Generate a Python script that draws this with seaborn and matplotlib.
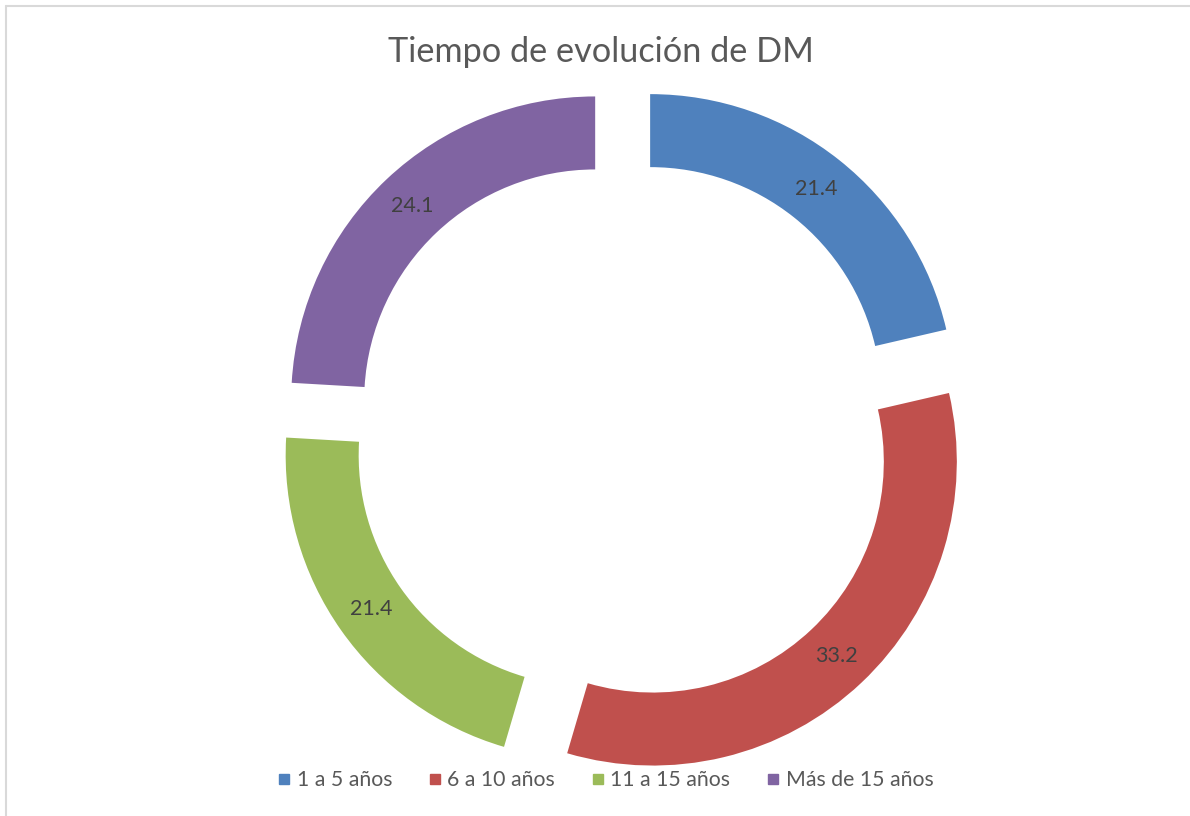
import matplotlib
matplotlib.use("Agg")
import matplotlib.pyplot as plt
import seaborn as sns
from matplotlib.lines import Line2D

categories = ["1 a 5 años", "6 a 10 años", "11 a 15 años", "Más de 15 años"]
values = [21.4, 33.2, 21.4, 24.1]
labels_txt = ["21.4", "33.2", "21.4", "24.1"]
colors = ["#4F81BD", "#C0504D", "#9BBB59", "#8064A2"]
title = "Tiempo de evolución de DM"

sns.set_theme(style="white")
plt.rcParams["font.family"] = ["Lato", "DejaVu Sans"]

W, H = 1190, 816
fig = plt.figure(figsize=(W / 100, H / 100), dpi=100)
ax = fig.add_axes([0, 0, 1, 1])

R = 304
cx, cy = 624, H - 431
explode_px = 42

wedges, texts, autotexts = ax.pie(
    values,
    colors=colors,
    startangle=90,
    counterclock=False,
    radius=R,
    center=(cx, cy),
    explode=[explode_px] * len(values),
    wedgeprops=dict(width=73, edgecolor="none"),
    autopct=lambda p: "",
    pctdistance=(R - 37) / R,
    frame=True,
)
ax.set_xlim(0, W)
ax.set_ylim(0, H)
ax.set_aspect("auto")
ax.axis("off")

for t, s in zip(autotexts, labels_txt):
    t.set_text(s)
    t.set_fontsize(15.5)
    t.set_color("#404040")

fig.text(601 / W, 1 - 52 / H, title, ha="center", va="center",
         fontsize=24.7, color="#595959")

handles = [Line2D([0], [0], marker="s", linestyle="none", markersize=7,
                  markerfacecolor=c, markeredgecolor=c) for c in colors]
leg = fig.legend(handles, categories, loc="center", bbox_to_anchor=(605 / W, 1 - 780 / H),
                 ncol=4, frameon=False, fontsize=15.3, handletextpad=0.25,
                 columnspacing=1.65, handlelength=0.7, labelcolor="#595959")

# chart border (top and left visible)
fig.add_artist(Line2D([6 / W, 6 / W], [0, 1 - 6 / H], transform=fig.transFigure,
                      color="#D9D9D9", linewidth=1.5))
fig.add_artist(Line2D([6 / W, 1], [1 - 6 / H, 1 - 6 / H], transform=fig.transFigure,
                      color="#D9D9D9", linewidth=1.5))

fig.savefig("out.png", dpi=100, facecolor="white")
